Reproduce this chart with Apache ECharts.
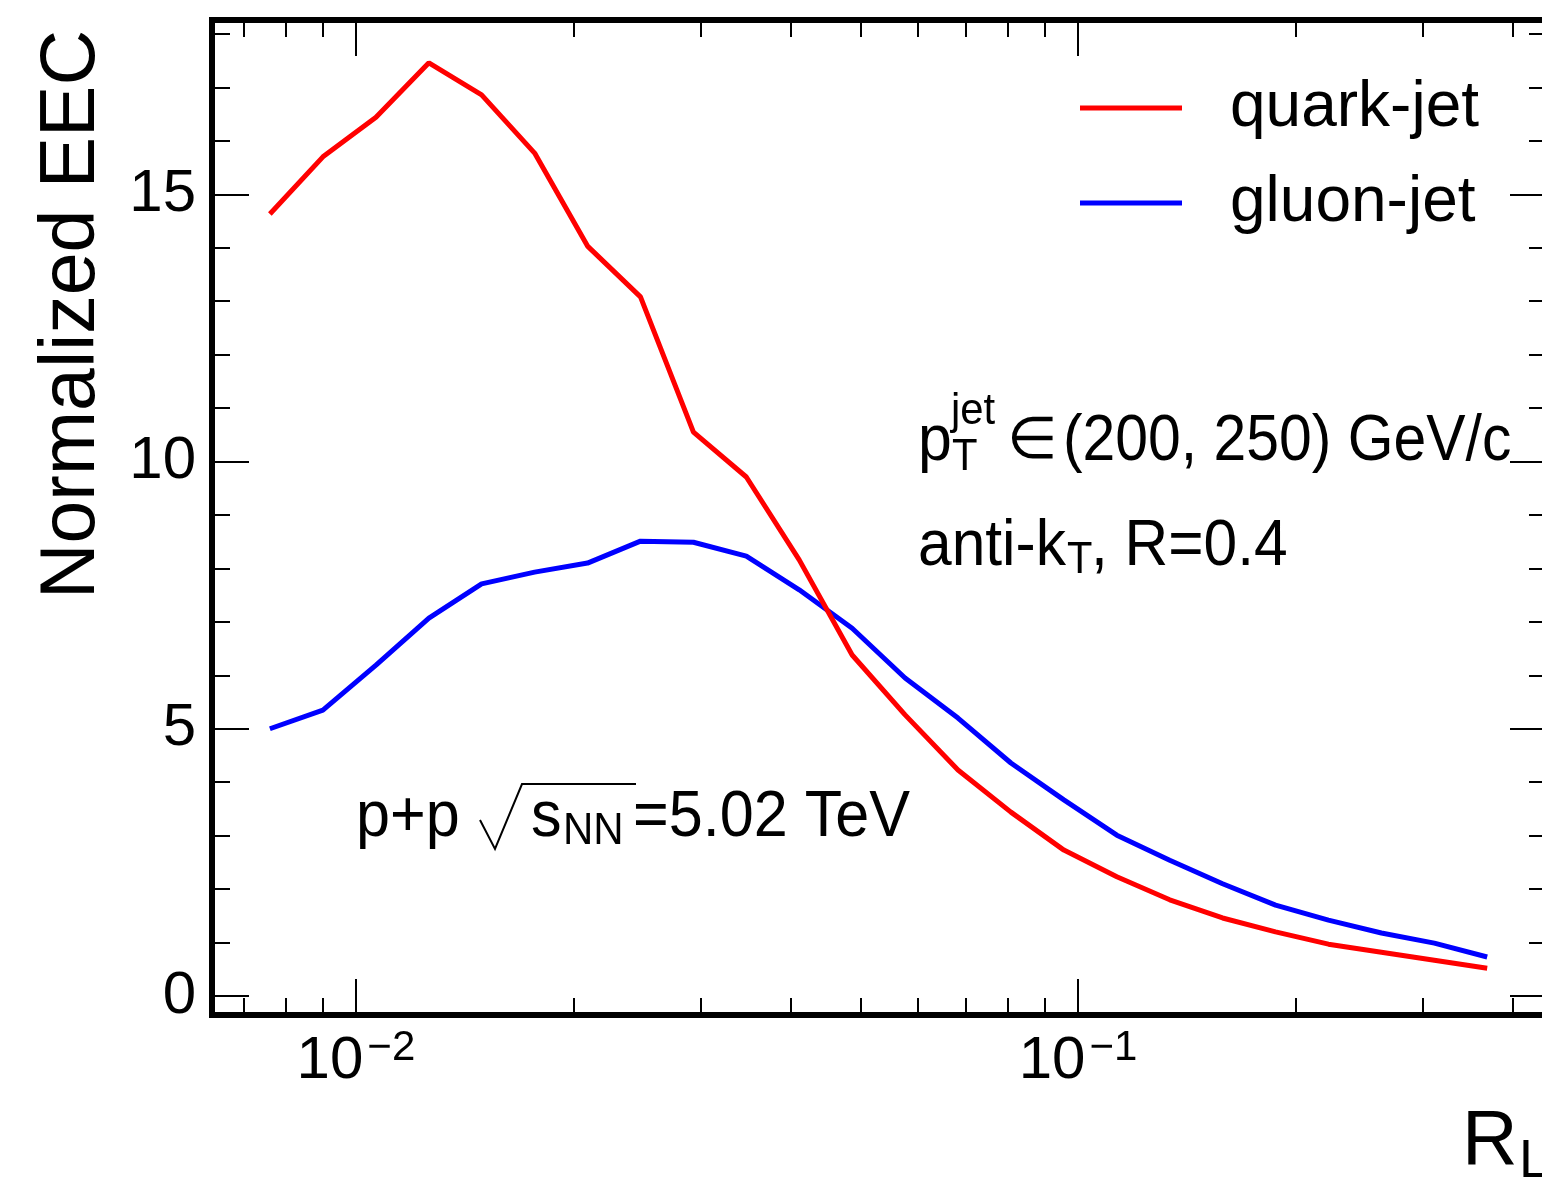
<!DOCTYPE html>
<html>
<head>
<meta charset="utf-8">
<title>Normalized EEC — quark vs gluon jets</title>
<script src="https://cdn.jsdelivr.net/npm/echarts@6/dist/echarts.min.js"></script>
<style>
  html, body { margin: 0; padding: 0; background: #fff; }
  #chart { width: 1542px; height: 1181px; }
</style>
</head>
<body>
<div id="chart"></div>
<script>
// R_L bin centres (log-spaced)
const rL = [0.00760, 0.00900, 0.01066, 0.01262, 0.01493, 0.01768, 0.02093, 0.02478,
            0.02934, 0.03473, 0.04111, 0.04867, 0.05762, 0.06821, 0.08075, 0.09561,
            0.1132, 0.1340, 0.1586, 0.1878, 0.2223, 0.2632, 0.3116, 0.3688];

// Normalized EEC, quark-initiated jets
const quarkEEC = [14.63, 15.70, 16.44, 17.46, 16.86, 15.77, 14.03, 13.08,
                  10.55, 9.71, 8.16, 6.38, 5.26, 4.23, 3.44, 2.73,
                  2.23, 1.80, 1.46, 1.20, 0.97, 0.82, 0.67, 0.52];

// Normalized EEC, gluon-initiated jets
const gluonEEC = [5.00, 5.35, 6.19, 7.07, 7.71, 7.93, 8.10, 8.51,
                  8.49, 8.23, 7.60, 6.88, 5.95, 5.20, 4.36, 3.67,
                  3.01, 2.54, 2.10, 1.70, 1.42, 1.18, 0.99, 0.73];

const seriesNames = ['quark-jet', 'gluon-jet'];

// Axis ranges and tick positions
const xRange = [0.006319, 0.4463];
const yRange = [-0.355, 18.26];
const xMajorTicks = [0.01, 0.1];
const xMinorTicks = [0.007, 0.008, 0.009, 0.02, 0.03, 0.04, 0.05, 0.06, 0.07, 0.08, 0.09, 0.2, 0.3, 0.4];
const yMajorTicks = [0, 5, 10, 15];
const yMinorTicks = [1, 2, 3, 4, 6, 7, 8, 9, 11, 12, 13, 14, 16, 17, 18];

const FONT = '"Liberation Sans", Arial, Helvetica, sans-serif';
const BLACK = '#000';

function pairs(xs, ys) { return xs.map((x, i) => [x, ys[i]]); }

// Frame rectangle, shared by the main grid and the overlaid minor-tick grid
const frame = { left: 212, top: 20, width: 1335, height: 995, outerBoundsMode: 'none' };

function xAxisDef(gridIndex, position, ticks, len, withLabels) {
  return {
    type: 'log', logBase: 10, min: xRange[0], max: xRange[1],
    position: position, gridIndex: gridIndex,
    axisLine: { show: false, onZero: false },
    splitLine: { show: false },
    minorTick: { show: false },
    axisTick: { show: true, inside: true, length: len, customValues: ticks,
                lineStyle: { color: BLACK, width: 2 } },
    axisLabel: withLabels ? {
      show: true, customValues: ticks, margin: 12, fontFamily: FONT, color: BLACK,
      formatter: v => '{b|10}{s|\u2212' + Math.round(-Math.log10(v)) + '}',
      rich: {
        b: { fontSize: 60, fontFamily: FONT, color: BLACK, lineHeight: 64, verticalAlign: 'bottom' },
        s: { fontSize: 42, fontFamily: FONT, color: BLACK, verticalAlign: 'top', padding: [0, 0, 0, 4] }
      }
    } : { show: false }
  };
}

function yAxisDef(gridIndex, position, ticks, len, withLabels) {
  return {
    type: 'value', min: yRange[0], max: yRange[1],
    position: position, gridIndex: gridIndex,
    axisLine: { show: false, onZero: false },
    splitLine: { show: false },
    axisTick: { show: true, inside: true, length: len, customValues: ticks,
                lineStyle: { color: BLACK, width: 2 } },
    axisLabel: withLabels ? {
      show: true, customValues: ticks, margin: 16, fontSize: 60,
      fontFamily: FONT, color: BLACK
    } : { show: false }
  };
}

// Plain text block anchored at its left edge / vertical middle
function txt(x, y, text, size, sx, extra) {
  return {
    type: 'text', x: x, y: y, z: 10, scaleX: sx || 1,
    style: Object.assign({
      text: text, fontSize: size, fontFamily: FONT, fill: BLACK,
      align: 'left', verticalAlign: 'middle'
    }, extra || {})
  };
}

const chart = echarts.init(document.getElementById('chart'), null, { renderer: 'canvas' });

chart.setOption({
  animation: false,
  backgroundColor: '#fff',
  grid: [
    Object.assign({ show: true, borderColor: BLACK, borderWidth: 6, backgroundColor: 'transparent' }, frame),
    Object.assign({ show: false }, frame)
  ],
  xAxis: [
    xAxisDef(0, 'bottom', xMajorTicks, 36, true),
    xAxisDef(0, 'top', xMajorTicks, 36, false),
    xAxisDef(1, 'bottom', xMinorTicks, 17, false),
    xAxisDef(1, 'top', xMinorTicks, 17, false)
  ],
  yAxis: [
    yAxisDef(0, 'left', yMajorTicks, 37, true),
    yAxisDef(0, 'right', yMajorTicks, 37, false),
    yAxisDef(1, 'left', yMinorTicks, 18, false),
    yAxisDef(1, 'right', yMinorTicks, 18, false)
  ],
  legend: {
    orient: 'vertical', left: 1080, top: 73,
    icon: 'rect', itemWidth: 102, itemHeight: 5, itemGap: 25,
    padding: 0,
    data: seriesNames,
    textStyle: { fontSize: 64, fontFamily: FONT, color: BLACK, lineHeight: 70,
                 padding: [0, 0, 0, 43] }
  },
  series: [
    {
      name: seriesNames[0], type: 'line', xAxisIndex: 0, yAxisIndex: 0,
      data: pairs(rL, quarkEEC), showSymbol: false, symbol: 'none',
      color: '#ff0000', lineStyle: { color: '#ff0000', width: 5 }, z: 3
    },
    {
      name: seriesNames[1], type: 'line', xAxisIndex: 0, yAxisIndex: 0,
      data: pairs(rL, gluonEEC), showSymbol: false, symbol: 'none',
      color: '#0000ff', lineStyle: { color: '#0000ff', width: 5 }, z: 2
    }
  ],
  graphic: [
    // y-axis title
    Object.assign(txt(73, 30, 'Normalized EEC', 77, 1, { align: 'right' }), { rotation: Math.PI / 2 }),
    // x-axis title R_L
    txt(1462, 1143, 'R', 77),
    txt(1519, 1162, 'L', 54),

    // p_T^jet ∈ (200, 250) GeV/c
    txt(918, 442, 'p', 64, 0.95),
    txt(951, 412, 'jet', 44, 0.95),
    txt(952, 458, 'T', 44, 0.95),
    txt(1007, 442, '\u2208', 58),
    txt(1063, 442, '(200, 250) GeV/c', 64, 0.92),

    // anti-k_T, R=0.4
    txt(918, 547, 'anti-k', 64, 0.945),
    txt(1067, 561, 'T', 44, 0.945),
    txt(1091, 547, ', R=0.4', 64, 0.945),

    // p+p √s_NN = 5.02 TeV
    txt(356, 818, 'p+p', 64, 0.955),
    { type: 'polyline', z: 10,
      shape: { points: [[480, 820], [495, 849], [522, 784], [636, 784]] },
      style: { stroke: BLACK, lineWidth: 2, fill: null } },
    txt(531, 818, 's', 64, 0.955),
    txt(563, 832, 'NN', 44, 0.955),
    txt(633, 818, '=5.02 TeV', 64, 0.955)
  ]
});
</script>
</body>
</html>
